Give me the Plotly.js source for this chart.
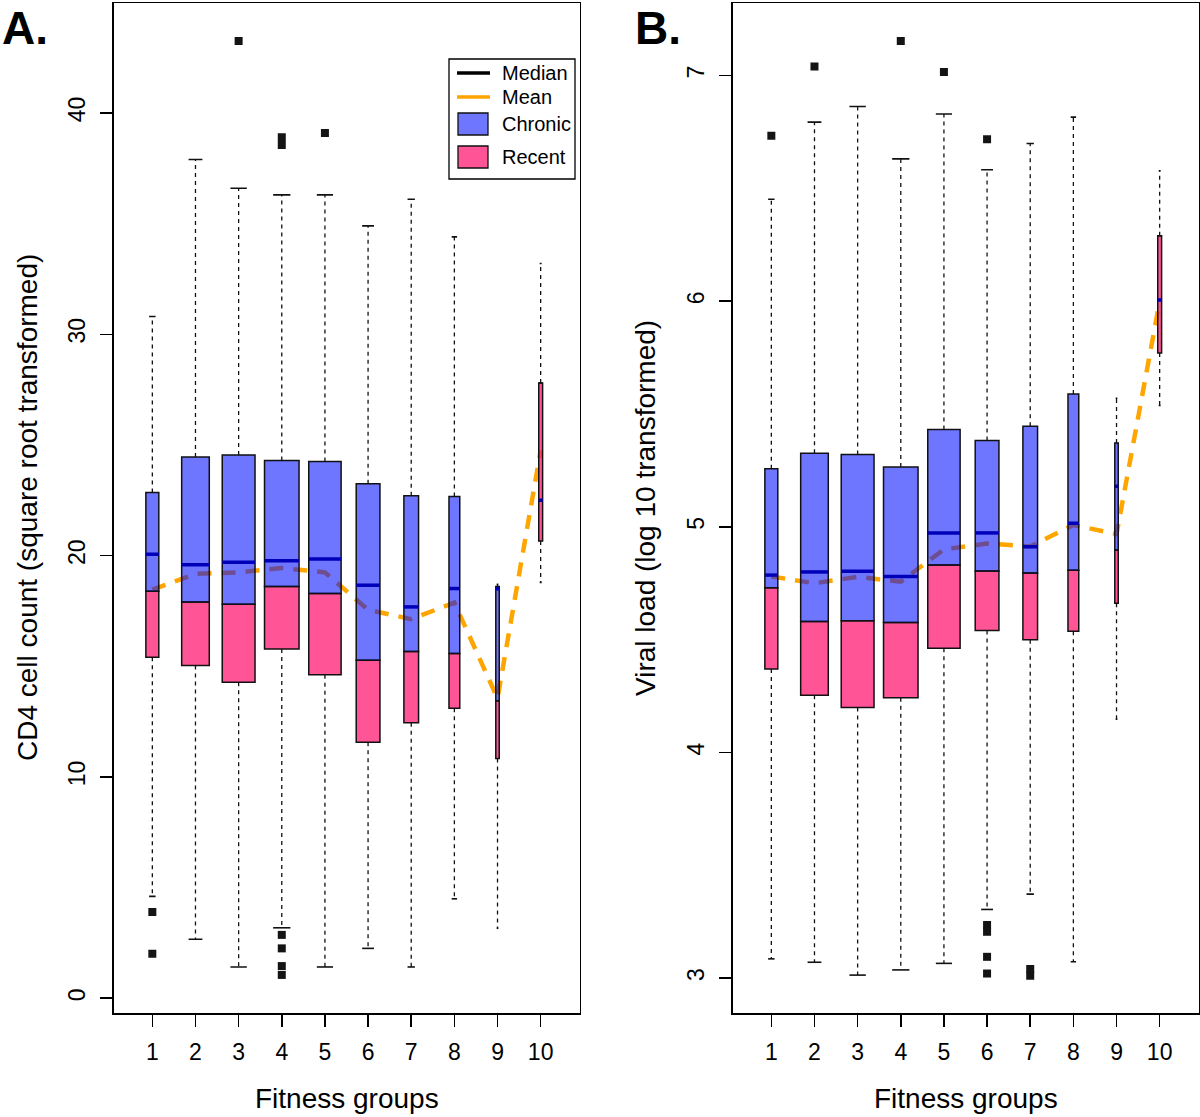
<!DOCTYPE html>
<html>
<head>
<meta charset="utf-8">
<script src="https://cdn.plot.ly/plotly-3.0.1.min.js"></script>
<style>html,body{margin:0;padding:0;background:#fff;}#chart{width:1200px;height:1117px;}</style>
</head>
<body>
<div id="chart"></div>
<script>
// ---------- DATA ----------
const groups = [1, 2, 3, 4, 5, 6, 7, 8, 9, 10];
const groupLabels = ['1', '2', '3', '4', '5', '6', '7', '8', '9', '10'];
const boxWidth = [0.30, 0.64, 0.76, 0.80, 0.75, 0.55, 0.34, 0.25, 0.08, 0.09];

// Panel A: CD4 cell count (square root transformed)
const cd4WhiskerHigh = [30.8, 37.9, 36.6, 36.3, 36.3, 34.9, 36.1, 34.4, 18.7, 33.2];
const cd4Q3 = [22.85, 24.45, 24.55, 24.3, 24.25, 23.25, 22.7, 22.67, 18.6, 27.8];
const cd4Median = [20.06, 19.59, 19.7, 19.77, 19.84, 18.66, 17.68, 18.51, 18.5, 22.5];
const cd4Split = [18.39, 17.9, 17.8, 18.6, 18.29, 15.27, 15.67, 15.57, 13.44, 27.8];
const cd4Q1 = [15.4, 15.03, 14.28, 15.78, 14.62, 11.57, 12.45, 13.1, 10.83, 20.66];
const cd4WhiskerLow = [4.6, 2.66, 1.41, 3.18, 1.41, 2.25, 1.41, 4.49, 3.16, 18.79];
const cd4Mean = [18.46, 19.17, 19.24, 19.44, 19.24, 17.55, 17.13, 17.87, 13.55, 24.75];
const cd4OutlierGroup = [1, 1, 3, 4, 4, 4, 4, 4, 4, 5];
const cd4OutlierValue = [3.89, 2.01, 43.25, 38.9, 38.55, 2.86, 2.25, 1.45, 1.05, 39.1];
const cd4Ticks = [0, 10, 20, 30, 40];

// Panel B: Viral load (log 10 transformed)
const vlWhiskerHigh = [6.452, 6.794, 6.863, 6.631, 6.83, 6.583, 6.699, 6.816, 5.57, 6.578];
const vlQ3 = [5.257, 5.326, 5.321, 5.265, 5.431, 5.383, 5.446, 5.589, 5.372, 6.29];
const vlMedian = [4.786, 4.80, 4.803, 4.78, 4.973, 4.973, 4.912, 5.016, 5.18, 6.005];
const vlSplit = [4.73, 4.58, 4.584, 4.576, 4.831, 4.804, 4.795, 4.808, 4.897, 6.29];
const vlQ1 = [4.37, 4.253, 4.199, 4.242, 4.462, 4.54, 4.50, 4.537, 4.661, 5.771];
const vlWhiskerLow = [3.085, 3.07, 3.013, 3.036, 3.065, 3.304, 3.372, 3.072, 4.147, 5.538];
const vlMean = [4.78, 4.75, 4.778, 4.757, 4.90, 4.926, 4.913, 5.008, 4.968, 6.0];
const vlOutlierGroup = [1, 2, 4, 5, 6, 6, 6, 6, 6, 7, 7];
const vlOutlierValue = [6.734, 7.04, 7.153, 7.016, 6.718, 3.235, 3.205, 3.094, 3.02, 3.04, 3.01];
const vlTicks = [3, 4, 5, 6, 7];

const legendLabels = ['Median', 'Mean', 'Chronic', 'Recent'];

// ---------- STYLE ----------
const FONT = 'Liberation Sans, Arial, Helvetica, sans-serif';
const BLUE = 'rgba(0,12,255,0.57)';
const PINK = 'rgba(255,20,110,0.72)';
const MEDIAN_COL = '#0000b8';
const MEAN_COL = '#ffa500';
const EDGE = '#111111';

const W = 1200, H = 1117;
const px = v => v / W;
const py = v => 1 - v / H;
const yDomain = [py(1013), py(3.2)];

function panelTraces(xa, yaBase, yaTop, wHigh, q3, med, split, q1, wLow, mean, outG, outV) {
  const traces = [];
  // mean line (drawn underneath the translucent boxes)
  traces.push({
    type: 'scatter', mode: 'lines', x: groups, y: mean, xaxis: xa, yaxis: yaBase,
    line: {color: MEAN_COL, width: 4.5, dash: '14px,10px'}, hoverinfo: 'skip', showlegend: false
  });
  // whiskers (dashed)
  const wx = [], wy = [];
  const cx = [], cy = [];
  const mx = [], my = [];
  groups.forEach((g, i) => {
    wx.push(g, g, null, g, g, null);
    wy.push(q3[i], wHigh[i], null, q1[i], wLow[i], null);
    const c = boxWidth[i] / 4;
    cx.push(g - c, g + c, null, g - c, g + c, null);
    cy.push(wHigh[i], wHigh[i], null, wLow[i], wLow[i], null);
    const h = boxWidth[i] / 2;
    mx.push(g - h, g + h, null);
    my.push(med[i], med[i], null);
  });
  traces.push({
    type: 'scatter', mode: 'lines', x: wx, y: wy, xaxis: xa, yaxis: yaTop,
    line: {color: EDGE, width: 1.3, dash: '4px,4px'}, hoverinfo: 'skip', showlegend: false
  });
  traces.push({
    type: 'scatter', mode: 'lines', x: cx, y: cy, xaxis: xa, yaxis: yaTop,
    line: {color: EDGE, width: 1.6}, hoverinfo: 'skip', showlegend: false
  });
  // lower (Recent) part of the box
  traces.push({
    type: 'bar', x: groups, y: groups.map((g, i) => split[i] - q1[i]), base: q1, width: boxWidth,
    xaxis: xa, yaxis: yaTop,
    marker: {color: PINK, line: {color: EDGE, width: 1.5}}, hoverinfo: 'skip', showlegend: false
  });
  // upper (Chronic) part of the box
  traces.push({
    type: 'bar', x: groups, y: groups.map((g, i) => q3[i] - split[i]), base: split, width: boxWidth,
    xaxis: xa, yaxis: yaTop,
    marker: {color: BLUE, line: {color: EDGE, width: 1.5}}, hoverinfo: 'skip', showlegend: false
  });
  // medians
  traces.push({
    type: 'scatter', mode: 'lines', x: mx, y: my, xaxis: xa, yaxis: yaTop,
    line: {color: MEDIAN_COL, width: 3.5}, hoverinfo: 'skip', showlegend: false
  });
  // outliers
  traces.push({
    type: 'scatter', mode: 'markers', x: outG, y: outV, xaxis: xa, yaxis: yaTop,
    marker: {symbol: 'square', size: 8, color: '#141414', line: {width: 0}}, hoverinfo: 'skip', showlegend: false
  });
  return traces;
}

const data = [].concat(
  panelTraces('x', 'y', 'y3', cd4WhiskerHigh, cd4Q3, cd4Median, cd4Split, cd4Q1, cd4WhiskerLow, cd4Mean, cd4OutlierGroup, cd4OutlierValue),
  panelTraces('x2', 'y2', 'y4', vlWhiskerHigh, vlQ3, vlMedian, vlSplit, vlQ1, vlWhiskerLow, vlMean, vlOutlierGroup, vlOutlierValue)
);

const rangeA = [-0.67, 44.96];
const rangeB = [2.845, 7.321];
const xRange = [0.1, 10.9];

function xAxis(domain, anchor) {
  return {
    domain: domain, anchor: anchor, range: xRange, fixedrange: true,
    tickmode: 'array', tickvals: groups, ticktext: groupLabels,
    ticks: 'outside', ticklen: 12, tickwidth: 1.5, tickcolor: '#000',
    showline: true, mirror: true, linecolor: '#000', linewidth: 1.5,
    showgrid: false, zeroline: false, ticklabelstandoff: 6,
    tickfont: {family: FONT, size: 23, color: '#000'}
  };
}
function yAxis(anchor, range, ticks) {
  return {
    domain: yDomain, anchor: anchor, range: range, fixedrange: true,
    tickmode: 'array', tickvals: ticks, ticktext: ticks.map(String), tickangle: -90,
    ticks: 'outside', ticklen: 12, tickwidth: 1.5, tickcolor: '#000',
    showline: true, mirror: true, linecolor: '#000', linewidth: 1.5,
    showgrid: false, zeroline: false, ticklabelstandoff: 6,
    tickfont: {family: FONT, size: 23, color: '#000'}
  };
}
function overlayAxis(base, anchor, range) {
  return {overlaying: base, anchor: anchor, range: range, fixedrange: true, visible: false,
          showgrid: false, zeroline: false};
}

const shapes = [];
const annotations = [];

// legend (panel A)
shapes.push({type: 'rect', xref: 'paper', yref: 'paper', x0: px(449), x1: px(575), y0: py(179), y1: py(59),
  line: {color: '#000', width: 1.3}, fillcolor: '#fff'});
shapes.push({type: 'line', xref: 'paper', yref: 'paper', x0: px(457), x1: px(490), y0: py(73), y1: py(73),
  line: {color: '#000', width: 3.5}});
shapes.push({type: 'line', xref: 'paper', yref: 'paper', x0: px(457), x1: px(490), y0: py(97), y1: py(97),
  line: {color: MEAN_COL, width: 3.5}});
shapes.push({type: 'rect', xref: 'paper', yref: 'paper', x0: px(458), x1: px(488), y0: py(135), y1: py(113),
  line: {color: EDGE, width: 1.3}, fillcolor: BLUE});
shapes.push({type: 'rect', xref: 'paper', yref: 'paper', x0: px(458), x1: px(488), y0: py(168), y1: py(146),
  line: {color: EDGE, width: 1.3}, fillcolor: PINK});
[73, 97, 124, 157].forEach((yy, i) => {
  annotations.push({xref: 'paper', yref: 'paper', x: px(500), y: py(yy), xanchor: 'left', yanchor: 'middle',
    text: legendLabels[i], showarrow: false, font: {family: FONT, size: 20, color: '#000'}});
});

// panel letters
annotations.push({xref: 'paper', yref: 'paper', x: px(0), y: py(28), xanchor: 'left', yanchor: 'middle',
  text: '<b>A.</b>', showarrow: false, font: {family: FONT, size: 46, color: '#000'}});
annotations.push({xref: 'paper', yref: 'paper', x: px(633), y: py(28), xanchor: 'left', yanchor: 'middle',
  text: '<b>B.</b>', showarrow: false, font: {family: FONT, size: 46, color: '#000'}});

// axis titles
annotations.push({xref: 'paper', yref: 'paper', x: px(346.5), y: py(1098), xanchor: 'center', yanchor: 'middle',
  text: 'Fitness groups', showarrow: false, font: {family: FONT, size: 28, color: '#000'}});
annotations.push({xref: 'paper', yref: 'paper', x: px(965.5), y: py(1098), xanchor: 'center', yanchor: 'middle',
  text: 'Fitness groups', showarrow: false, font: {family: FONT, size: 28, color: '#000'}});
annotations.push({xref: 'paper', yref: 'paper', x: px(27), y: py(508), xanchor: 'center', yanchor: 'middle',
  textangle: -90, text: 'CD4 cell count (square root transformed)', showarrow: false,
  font: {family: FONT, size: 28, color: '#000'}});
annotations.push({xref: 'paper', yref: 'paper', x: px(645), y: py(508), xanchor: 'center', yanchor: 'middle',
  textangle: -90, text: 'Viral load (log 10 transformed)', showarrow: false,
  font: {family: FONT, size: 28, color: '#000'}});

const layout = {
  width: W, height: H,
  margin: {l: 0, r: 0, t: 0, b: 0, pad: 0},
  paper_bgcolor: '#fff', plot_bgcolor: '#fff',
  showlegend: false, barmode: 'overlay',
  xaxis: xAxis([px(113.5), px(579.5)], 'y'),
  yaxis: yAxis('x', rangeA, cd4Ticks),
  xaxis2: xAxis([px(732.5), px(1198.5)], 'y2'),
  yaxis2: yAxis('x2', rangeB, vlTicks),
  yaxis3: overlayAxis('y', 'x', rangeA),
  yaxis4: overlayAxis('y2', 'x2', rangeB),
  shapes: shapes,
  annotations: annotations
};

Plotly.newPlot('chart', data, layout, {staticPlot: true, displayModeBar: false});
</script>
</body>
</html>
